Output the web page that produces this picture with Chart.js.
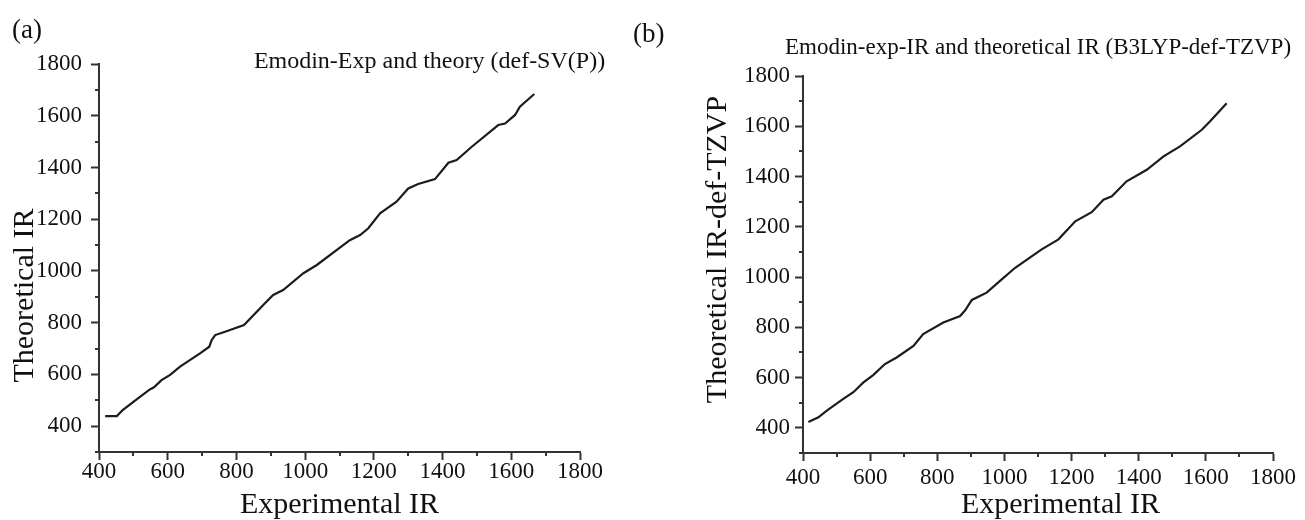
<!DOCTYPE html>
<html>
<head>
<meta charset="utf-8">
<script src="https://cdn.jsdelivr.net/npm/chart.js@4.4.1/dist/chart.umd.min.js"></script>
<style>
  body { margin: 0; background: #fff; }
  #wrap { position: relative; width: 1305px; height: 520px; font-family: "Liberation Serif", serif; color: #111; }
  canvas { position: absolute; top: 0; }
  #chartA { left: 0; }
  #chartB { left: 650px; }
  .panel { position: absolute; font-size: 27px; line-height: 1; }
</style>
</head>
<body>
<div id="wrap">
  <canvas id="chartA" width="650" height="520"></canvas>
  <canvas id="chartB" width="655" height="520"></canvas>
  <div class="panel" style="left:12px;top:16px">(a)</div>
  <div class="panel" style="left:633px;top:20px">(b)</div>
</div>
<script>
// (a) experimental vs def-SV(P) frequencies, cm-1
var expA = [418, 452, 469, 500, 548, 560, 582, 607, 636, 694, 721, 728, 738, 767, 822, 883, 907, 936, 995, 1034,
            1130, 1160, 1184, 1218, 1266, 1300, 1329, 1378, 1417, 1441, 1485, 1562, 1582, 1611, 1625, 1667];
var theoA = [439, 439, 462, 494, 542, 550, 578, 598, 630, 681, 707, 733, 752, 765, 791, 875, 907, 926, 991, 1023,
             1119, 1139, 1165, 1223, 1268, 1319, 1336, 1355, 1418, 1429, 1480, 1564, 1570, 1603, 1635, 1684];

// (b) experimental vs B3LYP/def-TZVP
var expB = [416, 446, 471, 520, 550, 580, 609, 644, 679, 729, 758, 818, 868, 883, 903, 947, 992, 1032, 1111, 1161,
            1211, 1260, 1295, 1320, 1364, 1424, 1474, 1523, 1588, 1612, 1662];
var theoB = [423, 442, 469, 515, 542, 581, 610, 654, 680, 726, 773, 819, 845, 868, 909, 938, 991, 1037, 1110, 1150,
             1222, 1258, 1308, 1321, 1381, 1427, 1480, 1520, 1586, 1619, 1692];

var xTicks = [400, 600, 800, 1000, 1200, 1400, 1600, 1800];
var yTicks = [400, 600, 800, 1000, 1200, 1400, 1600, 1800];

var ink = "#111";
var axisColor = "#333";
var serif = "'Liberation Serif', 'Times New Roman', serif";

// title text above the plot, placed relative to the chart area
var caption = {
  id: "caption",
  afterDraw: function(chart, args, opts) {
    var ctx = chart.ctx, a = chart.chartArea;
    ctx.save();
    ctx.font = opts.size + "px " + serif;
    ctx.fillStyle = ink;
    ctx.textAlign = "center";
    ctx.textBaseline = "alphabetic";
    ctx.fillText(opts.text, (a.left + a.right) / 2 + opts.dx, a.top + opts.dy);
    ctx.restore();
  }
};

// short unlabelled ticks half way between the labelled ones
var minorTicks = {
  id: "minorTicks",
  afterDraw: function(chart) {
    var ctx = chart.ctx, xs = chart.scales.x, ys = chart.scales.y;
    ctx.save();
    ctx.strokeStyle = axisColor;
    ctx.lineWidth = 2;
    ctx.beginPath();
    for (var v = 500; v < 1800; v += 200) {
      var px = Math.round(xs.getPixelForValue(v));
      ctx.moveTo(px, ys.bottom);
      ctx.lineTo(px, ys.bottom + 4);
    }
    for (var w = 300; w < 1800; w += 200) {
      var py = Math.round(ys.getPixelForValue(w));
      ctx.moveTo(xs.left, py);
      ctx.lineTo(xs.left - 4, py);
    }
    ctx.stroke();
    ctx.restore();
  }
};

function pts(xs, ys) {
  return xs.map(function(x, i) { return { x: x, y: ys[i] }; });
}

function plain(v) { return String(v); }

function makeChart(id, data, o) {
  return new Chart(id, {
    type: "line",
    data: {
      datasets: [{
        data: data,
        borderColor: "#1c1c1c",
        borderWidth: 2.2,
        pointRadius: 0,
        tension: 0,
        fill: false
      }]
    },
    options: {
      responsive: false,
      animation: false,
      layout: { padding: o.pad },
      plugins: {
        legend: { display: false },
        tooltip: { enabled: false },
        caption: o.caption
      },
      scales: {
        x: {
          type: "linear",
          min: 400,
          max: 1800,
          afterBuildTicks: function(s) { s.ticks = xTicks.map(function(v) { return { value: v }; }); },
          ticks: { color: ink, font: { family: serif, size: 23, lineHeight: 1 }, padding: o.xTickPad, maxRotation: 0, callback: plain },
          grid: { drawOnChartArea: false, tickLength: 8, tickColor: axisColor, tickWidth: 2 },
          border: { color: axisColor, width: 2 },
          title: { display: true, text: o.xTitle, color: ink, font: { family: serif, size: 30, lineHeight: 1 }, padding: { top: 0, bottom: 0 } },
          afterFit: function(s) { s.height = o.xHeight; }
        },
        y: {
          type: "linear",
          min: 300,
          max: 1800,
          afterBuildTicks: function(s) { s.ticks = yTicks.map(function(v) { return { value: v }; }); },
          ticks: { color: ink, font: { family: serif, size: 23 }, padding: o.yTickPad, callback: plain },
          grid: { drawOnChartArea: false, tickLength: 8, tickColor: axisColor, tickWidth: 2 },
          border: { color: axisColor, width: 2 },
          title: { display: true, text: o.yTitle, color: ink, font: { family: serif, size: 30, lineHeight: 1 }, padding: { top: o.yTitlePad, bottom: 0 } },
          afterFit: function(s) { s.width = o.yWidth; }
        }
      }
    },
    plugins: [caption, minorTicks]
  });
}

makeChart("chartA", pts(expA, theoA), {
  pad: { left: 0, top: 64, right: 70, bottom: 0 },
  yWidth: 99,
  xHeight: 68,
  xTickPad: 0,
  yTickPad: 9,
  yTitlePad: 10,
  xTitle: "Experimental IR",
  yTitle: "Theoretical IR" + "          ",
  caption: { text: "Emodin-Exp and theory (def-SV(P))", size: 24, dx: 90, dy: 4 }
});

makeChart("chartB", pts(expB, theoB), {
  pad: { left: 0, top: 76, right: 32, bottom: 0 },
  yWidth: 153,
  xHeight: 67,
  xTickPad: 5,
  yTickPad: 5,
  yTitlePad: 53,
  xTitle: "      Experimental IR",
  yTitle: "    Theoretical IR-def-TZVP",
  caption: { text: "Emodin-exp-IR and theoretical IR (B3LYP-def-TZVP)", size: 23, dx: 0, dy: -22 }
});
</script>
</body>
</html>
